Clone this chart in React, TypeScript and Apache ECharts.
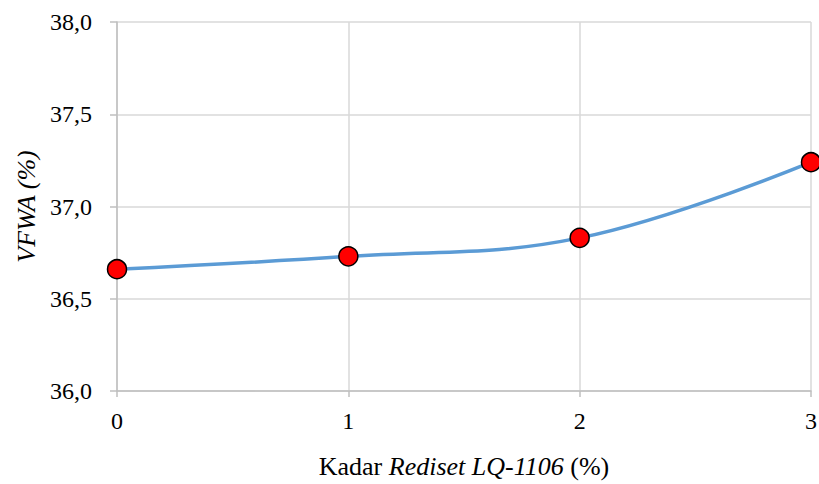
import React, { useEffect, useRef } from "react";
import * as echarts from "echarts";

const xValues = [0, 1, 2, 3];
const vfwa = [36.66, 36.73, 36.83, 37.24];

const FONT = "Liberation Serif, Times New Roman, serif";

export default function App() {
  const ref = useRef<HTMLDivElement>(null);
  useEffect(() => {
    const chart = echarts.init(ref.current!, null, { renderer: "svg" });
    chart.setOption({
      animation: false,
      backgroundColor: "#ffffff",
      textStyle: { fontFamily: FONT },
      grid: { left: 117, right: 8, top: 22, bottom: 93, outerBoundsMode: "none", containLabel: false },
      xAxis: {
        type: "value",
        min: 0,
        max: 3,
        interval: 1,
        name: "{n|Kadar }{i|Rediset LQ-1106}{n| (%)}",
        nameLocation: "middle",
        nameGap: 62,
        nameTextStyle: {
          fontFamily: FONT,
          fontSize: 26,
          rich: {
            n: { fontFamily: FONT, fontSize: 26, color: "#000" },
            i: { fontFamily: FONT, fontSize: 26, color: "#000", fontStyle: "italic" },
          },
        },
        axisLine: { show: true, lineStyle: { color: "#bfbfbf", width: 1.5 } },
        axisTick: { show: true, length: 6, lineStyle: { color: "#bfbfbf", width: 1.5 } },
        axisLabel: {
          margin: 18,
          fontFamily: FONT,
          fontSize: 24,
          color: "#000",
          formatter: (v: number) => String(v),
        },
        splitLine: { show: true, lineStyle: { color: "#d9d9d9", width: 1.5 } },
      },
      yAxis: {
        type: "value",
        min: 36,
        max: 38,
        interval: 0.5,
        name: "{i|VFWA (%)}",
        nameLocation: "middle",
        nameGap: 76,
        nameRotate: 90,
        nameTextStyle: {
          fontFamily: FONT,
          fontSize: 26,
          rich: {
            i: { fontFamily: FONT, fontSize: 26, color: "#000", fontStyle: "italic" },
          },
        },
        axisLine: { show: true, lineStyle: { color: "#bfbfbf", width: 1.5 } },
        axisTick: { show: true, length: 7, lineStyle: { color: "#bfbfbf", width: 1.5 } },
        axisLabel: {
          margin: 25,
          fontFamily: FONT,
          fontSize: 24,
          color: "#000",
          formatter: (v: number) => v.toFixed(1).replace(".", ","),
        },
        splitLine: { show: true, lineStyle: { color: "#d9d9d9", width: 1.5 } },
      },
      series: [
        {
          type: "line",
          data: xValues.map((x, i) => [x, vfwa[i]]),
          smooth: 0.4,
          lineStyle: { color: "#5b9bd5", width: 3.5 },
          symbol: "circle",
          symbolSize: 19,
          itemStyle: { color: "#ff0000", borderColor: "#000000", borderWidth: 1.5 },
          clip: false,
          z: 3,
        },
      ],
    });
    return () => chart.dispose();
  }, []);
  return <div ref={ref} style={{ width: 819, height: 484, position: "fixed", left: 0, top: 0 }} />;
}
